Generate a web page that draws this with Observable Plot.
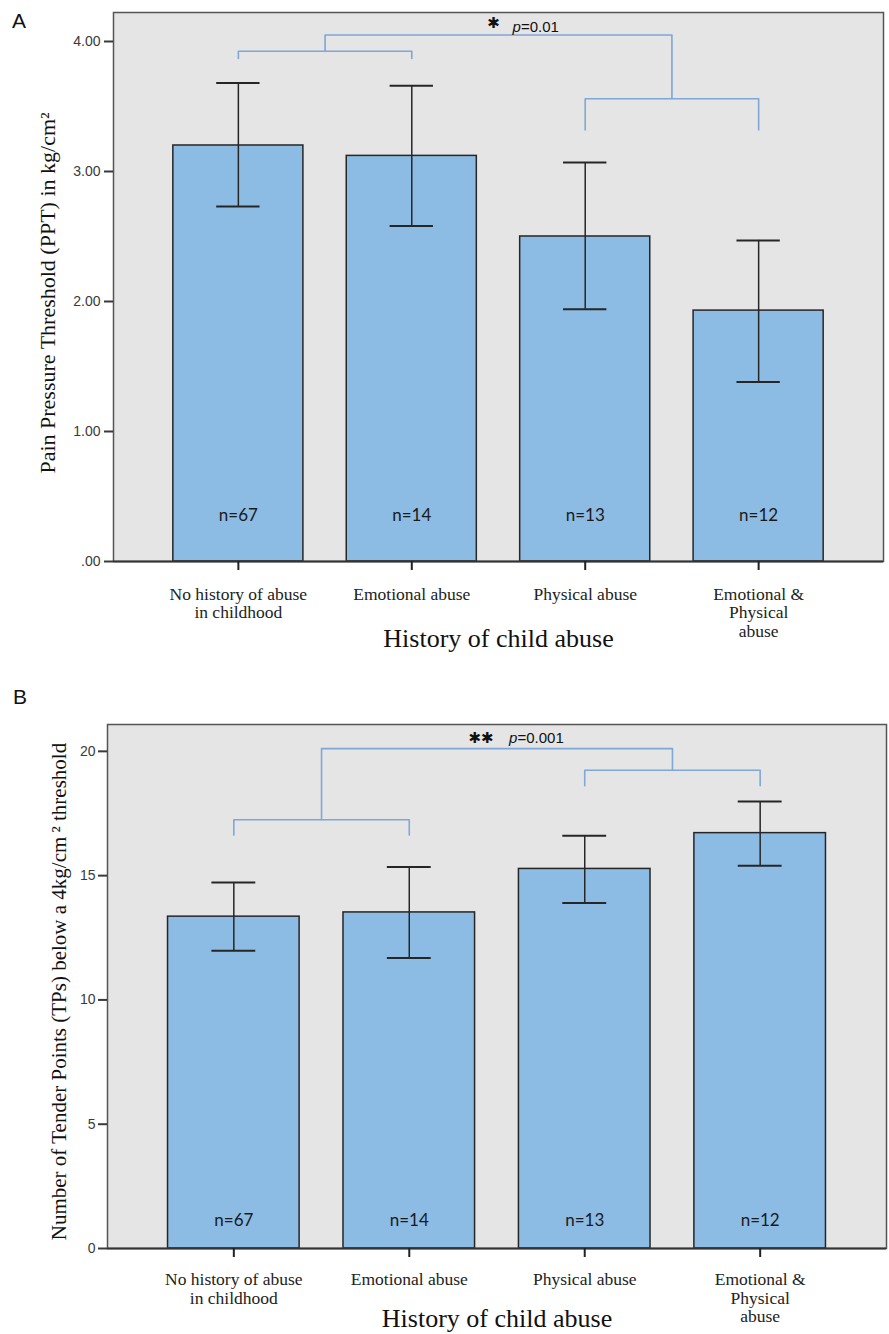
<!DOCTYPE html>
<html><head><meta charset="utf-8">
<script src="https://cdn.jsdelivr.net/npm/d3@7"></script>
<script src="https://cdn.jsdelivr.net/npm/@observablehq/plot@0.6"></script>
<style>
body{margin:0;background:#fff;width:889px;height:1334px;position:relative;overflow:hidden;font-family:"Liberation Sans",Arial,sans-serif;}
.panel{position:absolute;left:0;}
.letter{position:absolute;font-size:21px;color:#111;line-height:1;font-family:"Liberation Sans",Arial,sans-serif;}
</style></head><body>
<div class="letter" style="left:12px;top:10px">A</div>
<div class="letter" style="left:13px;top:686px">B</div>
<div id="a" class="panel" style="top:0"></div>
<div id="b" class="panel" style="top:650px"></div>
<script>
// ---- data ----
const categories = ["No history of abuse\nin childhood", "Emotional abuse", "Physical abuse", "Emotional &\nPhysical\nabuse"];
const sampleSizes = ["n=67", "n=14", "n=13", "n=12"];
const xTitle = "History of child abuse";

const pptTitle = "Pain Pressure Threshold (PPT) in kg/cm\u00B2";
const pptMean = [3.20, 3.12, 2.50, 1.93];
const pptLow  = [2.73, 2.58, 1.94, 1.38];
const pptHigh = [3.68, 3.66, 3.07, 2.47];
const pptTicks = [0, 1, 2, 3, 4];
const pptPairs = [[0, 1], [2, 3]];
const pptPairLevels = [3.925, 3.56];
const pptPairLegEnds = [3.87, 3.32];
const pptOuterLevel = 4.05;
const pptStars = "\u2731";
const pptP = "=0.01";

const tpTitle = "Number of Tender Points (TPs) below a 4kg/cm\u2009\u00B2 threshold";
const tpMean = [13.35, 13.52, 15.27, 16.71];
const tpLow  = [11.98, 11.69, 13.90, 15.40];
const tpHigh = [14.72, 15.35, 16.60, 17.98];
const tpTicks = [0, 5, 10, 15, 20];
const tpPairs = [[0, 1], [2, 3]];
const tpPairLevels = [17.25, 19.24];
const tpPairLegEnds = [16.63, 18.62];
const tpOuterLevel = 20.11;
const tpStars = "\u2731\u2731";
const tpP = "=0.001";

// ---- styles ----
const barFill = "#8cbbe4";
const bgFill = "#e5e5e5";
const bracketColor = "#7fa7d7";
const ink = "#262626";

function bracketPoints(pairs, levels, legEnds, outer) {
  const paths = pairs.map(([i, j], k) => [
    {x: i + 1, y: legEnds[k]}, {x: i + 1, y: levels[k]},
    {x: j + 1, y: levels[k]}, {x: j + 1, y: legEnds[k]}
  ]);
  const m0 = (pairs[0][0] + pairs[0][1]) / 2 + 1;
  const m1 = (pairs[1][0] + pairs[1][1]) / 2 + 1;
  paths.push([{x: m0, y: levels[0]}, {x: m0, y: outer}, {x: m1, y: outer}, {x: m1, y: levels[1]}]);
  return {points: paths.flatMap((p, z) => p.map(d => ({...d, z}))), mid: (m0 + m1) / 2};
}

function panel(cfg) {
  const rows = categories.map((c, i) => ({pos: i + 1, mean: cfg.mean[i], lo: cfg.lo[i], hi: cfg.hi[i], n: sampleSizes[i]}));
  const br = bracketPoints(cfg.pairs, cfg.levels, cfg.legEnds, cfg.outer);
  const ann = [{x: br.mid, y: cfg.outer}];
  return Plot.plot({
    width: 889, height: cfg.height,
    marginTop: cfg.mt, marginBottom: cfg.mb, marginLeft: cfg.ml, marginRight: cfg.mr,
    style: {fontFamily: "'Liberation Sans', Arial, sans-serif", background: "transparent", overflow: "visible"},
    x: {domain: [0.28, 4.72]},
    y: {domain: cfg.domain},
    marks: [
      Plot.frame({fill: bgFill}),
      Plot.rectY(rows, {x1: d => d.pos - 0.375, x2: d => d.pos + 0.375, y: "mean", fill: barFill, stroke: ink, strokeWidth: 1.5}),
      Plot.ruleX(rows, {x: "pos", y1: "lo", y2: "hi", stroke: ink, strokeWidth: 1.5}),
      Plot.ruleY(rows, {y: "hi", x1: d => d.pos - 0.125, x2: d => d.pos + 0.125, stroke: ink, strokeWidth: 2}),
      Plot.ruleY(rows, {y: "lo", x1: d => d.pos - 0.125, x2: d => d.pos + 0.125, stroke: ink, strokeWidth: 2}),
      Plot.line(br.points, {x: "x", y: "y", z: "z", stroke: bracketColor, strokeWidth: 1.6}),
      Plot.text(ann, {x: "x", y: "y", text: () => cfg.stars, textAnchor: "middle", dx: cfg.starDx, dy: cfg.starDy, fontSize: 15, fontFamily: "'DejaVu Sans', sans-serif", fill: "#111"}),
      Plot.text(ann, {x: "x", y: "y", text: () => "p", textAnchor: "start", dx: cfg.pDx, dy: cfg.pDy, fontSize: 15, fontStyle: "italic", fill: "#111"}),
      Plot.text(ann, {x: "x", y: "y", text: () => cfg.pText, textAnchor: "start", dx: cfg.pDx + 8.5, dy: cfg.pDy, fontSize: 15, fill: "#111"}),
      Plot.text(rows, {x: "pos", text: "n", frameAnchor: "bottom", lineAnchor: "middle", dy: cfg.nDy, fontSize: 17, fontFamily: "Lato, 'Open Sans', sans-serif", fill: "#1a1a1a"}),
      Plot.frame({stroke: "#555", strokeWidth: 1.5}),
      Plot.ruleY([0], {stroke: "#333", strokeWidth: 2}),
      Plot.axisY({ticks: cfg.ticks, tickFormat: cfg.fmt, tickSize: 9, tickPadding: cfg.tp, fontSize: 14, color: "#3a3a3a", strokeWidth: 2, label: null}),
      Plot.axisX({ticks: [1, 2, 3, 4], tickFormat: d => categories[d - 1], tickSize: 9, tickPadding: cfg.xtp, fontSize: 17.5, lineHeight: 1.06, fontFamily: "'Liberation Serif', serif", color: "#222", strokeWidth: 2, label: null}),
      Plot.text([xTitle], {text: d => d, frameAnchor: "bottom", lineAnchor: "middle", textAnchor: "middle", dy: cfg.titleDy, fontSize: 26, fontFamily: "'Liberation Serif', serif", fill: "#111"}),
      Plot.text([cfg.yTitle], {text: d => d, frameAnchor: "left", textAnchor: "middle", lineAnchor: "middle", rotate: -90, dx: cfg.yDx, dy: cfg.yDy, fontSize: cfg.yFs, fontFamily: "'Liberation Serif', serif", fill: "#111"})
    ]
  });
}

try {
  document.getElementById("a").append(panel({
    height: 650, mt: 12, mb: 89, ml: 113, mr: 6, domain: [0, 4.223],
    mean: pptMean, lo: pptLow, hi: pptHigh, ticks: pptTicks,
    fmt: d => d === 0 ? ".00" : d.toFixed(2), tp: 4, xtp: 16,
    pairs: pptPairs, levels: pptPairLevels, legEnds: pptPairLegEnds, outer: pptOuterLevel,
    stars: pptStars, pText: pptP, starDx: -5, starDy: -11.5, pDx: 14, pDy: -8,
    nDy: -46, titleDy: 77, yTitle: pptTitle, yDx: -66, yDy: 6, yFs: 22
  }));
  document.getElementById("b").append(panel({
    height: 684, mt: 74, mb: 86, ml: 107, mr: 3, domain: [0, 21.08],
    mean: tpMean, lo: tpLow, hi: tpHigh, ticks: tpTicks,
    fmt: d => String(d), tp: 3, xtp: 14.5,
    pairs: tpPairs, levels: tpPairLevels, legEnds: tpPairLegEnds, outer: tpOuterLevel,
    stars: tpStars, pText: tpP, starDx: -16, starDy: -10, pDx: 12, pDy: -10,
    nDy: -28, titleDy: 70, yTitle: tpTitle, yDx: -48, yDy: 5, yFs: 21
  }));
} catch (e) {
  document.body.insertAdjacentHTML("beforeend", "<pre style='position:absolute;top:300px'>" + e + "</pre>");
}
</script>
</body></html>
